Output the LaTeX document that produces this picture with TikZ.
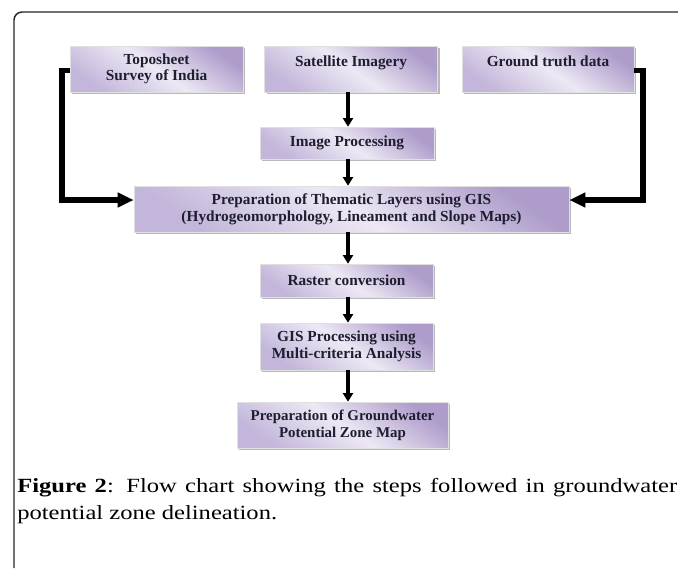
\documentclass[tikz,border=0pt]{standalone}
\usepackage{fontspec}
\setmainfont{Liberation Serif}
\newfontfamily\capfont[FakeStretch=1.22]{Liberation Serif}
\usetikzlibrary{arrows.meta,shadows}
\definecolor{boxdark}{HTML}{AE9DCB}
\definecolor{boxmid}{HTML}{EDE8F4}
\definecolor{boxlow}{HTML}{C3B6DA}
\definecolor{boxtext}{HTML}{1E1E30}
\begin{document}
\begin{tikzpicture}[x=0.75pt,y=-0.75pt,
  flowbox/.style={rectangle, inner sep=0pt, align=center,
    top color=boxdark, bottom color=boxlow, middle color=boxmid, shading angle=-35,
    draw=black!12, line width=0.4pt, text=boxtext,
    font=\bfseries\fontsize{11.5}{12.2}\selectfont,
    drop shadow={shadow xshift=1.6pt, shadow yshift=-1.6pt, fill=black!50, opacity=0.55}},
  sidearrow/.style={line width=4.2pt, -{Triangle[length=12pt, width=10.5pt]}},
  downarrow/.style={line width=3.4pt, -{Triangle[length=6.5pt, width=7.5pt]}}
]
\useasboundingbox (0,0) rectangle (678,568);
% frame (open at right and bottom)
\draw[line width=1.1pt, black!85, rounded corners=6pt] (14,568) -- (14,12) -- (678,12);

\node[flowbox, minimum width=173*0.75pt, minimum height=46*0.75pt] (topo) at (156.5,69) {Toposheet\\Survey of India};
\node[flowbox, minimum width=173*0.75pt, minimum height=46*0.75pt] (sat) at (351,69) {Satellite Imagery\\\phantom{I}};
\node[flowbox, minimum width=172*0.75pt, minimum height=46*0.75pt] (ground) at (548,69) {Ground truth data\\\phantom{I}};
\node[flowbox, minimum width=174*0.75pt, minimum height=32*0.75pt] (imgp) at (347,143) {Image Processing};
\node[flowbox, minimum width=435*0.75pt, minimum height=46*0.75pt, font=\bfseries\fontsize{11.5}{12.75}\selectfont] (them) at (351.5,209) {Preparation of Thematic Layers using GIS\\(Hydrogeomorphology, Lineament and Slope Maps)};
\node[flowbox, minimum width=173*0.75pt, minimum height=33*0.75pt] (raster) at (346.5,280.5) {Raster conversion};
\node[flowbox, minimum width=173*0.75pt, minimum height=47*0.75pt, font=\bfseries\fontsize{11.5}{12.75}\selectfont] (gisp) at (346.5,346.5) {GIS Processing using\\Multi-criteria Analysis};
\node[flowbox, minimum width=211*0.75pt, minimum height=46*0.75pt, font=\bfseries\fontsize{11.2}{12.75}\selectfont] (gw) at (342.5,425) {Preparation of Groundwater\\Potential Zone Map};

\coordinate (col) at (348,0);
\coordinate (lft) at (62,200);
\coordinate (rgt) at (643,200);

\draw[downarrow] (sat.south -| col) -- (imgp.north -| col);
\draw[downarrow] (imgp.south -| col) -- (them.north -| col);
\draw[downarrow] (them.south -| col) -- (raster.north -| col);
\draw[downarrow] (raster.south -| col) -- (gisp.north -| col);
\draw[downarrow] (gisp.south -| col) -- (gw.north -| col);

\draw[sidearrow] ([yshift=-1pt]topo.west) -| (lft) -- (lft -| them.west);
\draw[sidearrow] ([yshift=-1pt]ground.east) -| (rgt) -- (rgt -| them.east);

\node[anchor=north west, inner sep=0pt, text width=660*0.75pt, align=justify,
  font=\capfont\fontsize{15.1}{20.25}\selectfont] (cap) at (17,478)
  {\hyphenpenalty=10000 {\bfseries Figure 2}: Flow chart showing the steps followed in groundwater\linebreak potential zone delineation.};
\end{tikzpicture}
\end{document}
